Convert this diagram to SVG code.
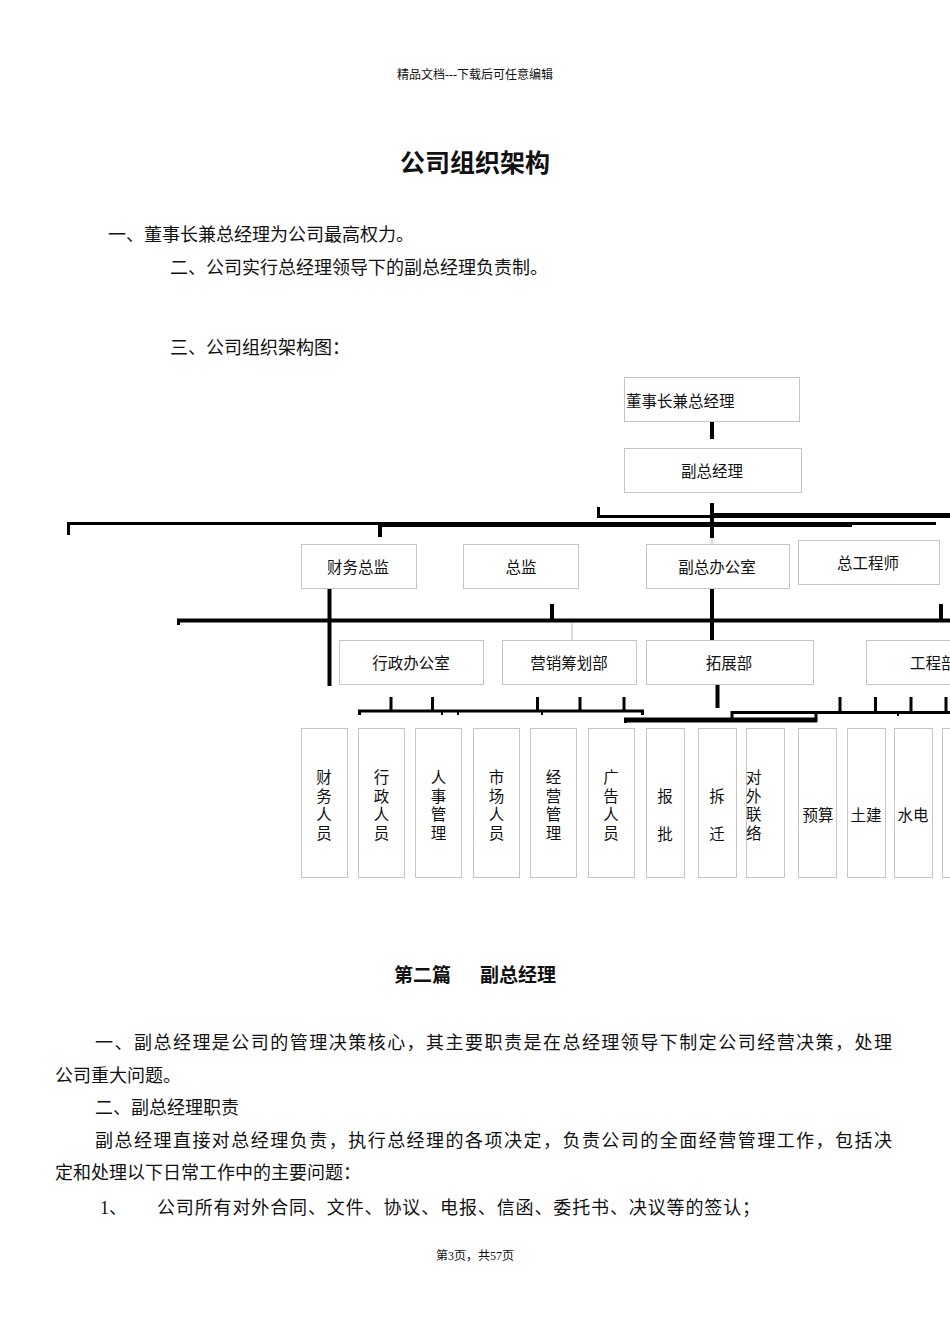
<svg xmlns="http://www.w3.org/2000/svg" width="950" height="1344" viewBox="0 0 950 1344">
<style>
text{font-family:"Liberation Serif","Noto Sans CJK SC",serif;fill:#111;dominant-baseline:central}
.body{font-size:18px}
.box{fill:#fff;stroke:#c4c4c4;stroke-width:1}
.lbl{font-size:15.5px}
.c{text-anchor:middle}
.k{stroke:#000;fill:none;stroke-linecap:butt}
.g{stroke:#bdbdbd;stroke-width:1;fill:none}
</style>
<rect width="950" height="1344" fill="#fff"/>
<text x="475" y="75" class="c" style="font-size:12px">精品文档---下载后可任意编辑</text>
<text x="475" y="163" class="c" style="font-size:25px;font-weight:bold">公司组织架构</text>
<text x="108" y="235" class="body">一、董事长兼总经理为公司最高权力。</text>
<text x="170" y="268" class="body">二、公司实行总经理领导下的副总经理负责制。</text>
<text x="170" y="348" class="body">三、公司组织架构图：</text>

<g id="connectors">
<path class="k" stroke-width="4" d="M712 422V439M712 503V538M712 588V640M717.5 684V708M329.5 588V686"/>
<path class="g" d="M712 538V544M572 623V640"/>
<path class="k" stroke-width="3" d="M598.5 507V516.5H712"/>
<path class="k" stroke-width="5" d="M712 515.5H950"/>
<path class="k" stroke-width="3" d="M68.5 535V523.5H380"/>
<path class="k" stroke-width="5" d="M380 524.5H712"/>
<path class="k" stroke-width="3" d="M712 523.5H936"/>
<path class="k" stroke-width="2" d="M712 526H852"/>
<path class="k" stroke-width="4" d="M380 525V537"/>
<path class="k" stroke-width="4" d="M177 620.5H950"/>
<path class="k" stroke-width="3" d="M178.5 619V625"/>
<path class="k" stroke-width="4" d="M552 604V620M941 604V620"/>
<path class="k" stroke-width="3" d="M359.5 715V711H642.5V715M391 697V711M432.5 697V711M537.5 697V711M580 697V711M624 697V711"/>
<path class="k" stroke-width="2" d="M442 711V715M458 711V715M542 711V715M898 712V716"/>
<path class="k" stroke-width="5" d="M624 720H817"/>
<path class="k" stroke-width="3" d="M625.5 718V723M816 711V722"/>
<path class="k" stroke-width="3" d="M732 718V712.5H950M840 697V712M875.5 697V712M911 697V712M946 697V712"/>
</g>

<g id="n-chairman"><rect class="box" x="624.5" y="377.5" width="175" height="44"/><text x="626" y="401" class="lbl">董事长兼总经理</text></g>
<g id="n-vgm"><rect class="box" x="624.5" y="448.5" width="177" height="44"/><text x="712" y="471" class="lbl c">副总经理</text></g>

<g id="n-cfo"><rect class="box" x="301.5" y="544.5" width="115" height="44"/><text x="358" y="567" class="lbl c">财务总监</text></g>
<g id="n-director"><rect class="box" x="463.5" y="544.5" width="115" height="44"/><text x="521" y="567" class="lbl c">总监</text></g>
<g id="n-vgmoffice"><rect class="box" x="646.5" y="544.5" width="143" height="44"/><text x="717" y="567" class="lbl c">副总办公室</text></g>
<g id="n-chiefeng"><rect class="box" x="798.5" y="540.5" width="141" height="44"/><text x="868" y="563" class="lbl c">总工程师</text></g>

<g id="n-admin"><rect class="box" x="339.5" y="640.5" width="144" height="44"/><text x="411" y="663" class="lbl c">行政办公室</text></g>
<g id="n-marketing"><rect class="box" x="502.5" y="640.5" width="134" height="44"/><text x="569" y="663" class="lbl c">营销筹划部</text></g>
<g id="n-expansion"><rect class="box" x="646.5" y="640.5" width="167" height="44"/><text x="729" y="663" class="lbl c">拓展部</text></g>
<g id="n-engineering"><rect class="box" x="866.5" y="640.5" width="100" height="44"/><text x="910" y="663" class="lbl">工程部</text></g>

<g id="n-finstaff"><rect class="box" x="301.5" y="728.5" width="46" height="149"/><text class="lbl c"><tspan x="324" y="777">财</tspan><tspan x="324" y="795.5">务</tspan><tspan x="324" y="814">人</tspan><tspan x="324" y="832.5">员</tspan></text></g>
<g id="n-adminstaff"><rect class="box" x="358.5" y="728.5" width="46" height="149"/><text class="lbl c"><tspan x="381.5" y="777">行</tspan><tspan x="381.5" y="795.5">政</tspan><tspan x="381.5" y="814">人</tspan><tspan x="381.5" y="832.5">员</tspan></text></g>
<g id="n-hr"><rect class="box" x="415.5" y="728.5" width="46" height="149"/><text class="lbl c"><tspan x="438.5" y="777">人</tspan><tspan x="438.5" y="795.5">事</tspan><tspan x="438.5" y="814">管</tspan><tspan x="438.5" y="832.5">理</tspan></text></g>
<g id="n-marketstaff"><rect class="box" x="473.5" y="728.5" width="46" height="149"/><text class="lbl c"><tspan x="496.5" y="777">市</tspan><tspan x="496.5" y="795.5">场</tspan><tspan x="496.5" y="814">人</tspan><tspan x="496.5" y="832.5">员</tspan></text></g>
<g id="n-opmgmt"><rect class="box" x="530.5" y="728.5" width="46" height="149"/><text class="lbl c"><tspan x="553.5" y="777">经</tspan><tspan x="553.5" y="795.5">营</tspan><tspan x="553.5" y="814">管</tspan><tspan x="553.5" y="832.5">理</tspan></text></g>
<g id="n-adstaff"><rect class="box" x="588.5" y="728.5" width="46" height="149"/><text class="lbl c"><tspan x="611" y="777">广</tspan><tspan x="611" y="795.5">告</tspan><tspan x="611" y="814">人</tspan><tspan x="611" y="832.5">员</tspan></text></g>
<g id="n-approval"><rect class="box" x="646.5" y="728.5" width="38" height="149"/><text class="lbl c"><tspan x="665" y="796">报</tspan><tspan x="665" y="834">批</tspan></text></g>
<g id="n-demolition"><rect class="box" x="698.5" y="728.5" width="38" height="149"/><text class="lbl c"><tspan x="717" y="796">拆</tspan><tspan x="717" y="834">迁</tspan></text></g>
<g id="n-liaison"><rect class="box" x="746.5" y="728.5" width="38" height="149"/><text class="lbl"><tspan x="746" y="777">对</tspan><tspan x="746" y="795.5">外</tspan><tspan x="746" y="814">联</tspan><tspan x="746" y="832.5">络</tspan></text></g>
<g id="n-budget"><rect class="box" x="798.5" y="728.5" width="38" height="149"/><text x="818" y="815" class="lbl c">预算</text></g>
<g id="n-civil"><rect class="box" x="847.5" y="728.5" width="38" height="149"/><text x="866" y="815" class="lbl c">土建</text></g>
<g id="n-plumbing"><rect class="box" x="894.5" y="728.5" width="38" height="149"/><text x="913" y="815" class="lbl c">水电</text></g>
<g id="n-extra"><rect class="box" x="942.5" y="728.5" width="38" height="149"/></g>

<text x="394" y="975" style="font-size:19px;font-weight:bold">第二篇</text>
<text x="480" y="975" style="font-size:19px;font-weight:bold">副总经理</text>
<text x="95" y="1043" class="body" textLength="797" lengthAdjust="spacing">一、副总经理是公司的管理决策核心，其主要职责是在总经理领导下制定公司经营决策，处理</text>
<text x="55" y="1076" class="body">公司重大问题。</text>
<text x="95" y="1108" class="body">二、副总经理职责</text>
<text x="95" y="1141" class="body" textLength="797" lengthAdjust="spacing">副总经理直接对总经理负责，执行总经理的各项决定，负责公司的全面经营管理工作，包括决</text>
<text x="55" y="1173" class="body">定和处理以下日常工作中的主要问题：</text>
<text x="100" y="1208" class="body">1、</text>
<text x="157" y="1208" class="body" textLength="603" lengthAdjust="spacing">公司所有对外合同、文件、协议、电报、信函、委托书、决议等的签认；</text>
<text x="475" y="1256" class="c" style="font-size:12px">第3页，共57页</text>
</svg>
